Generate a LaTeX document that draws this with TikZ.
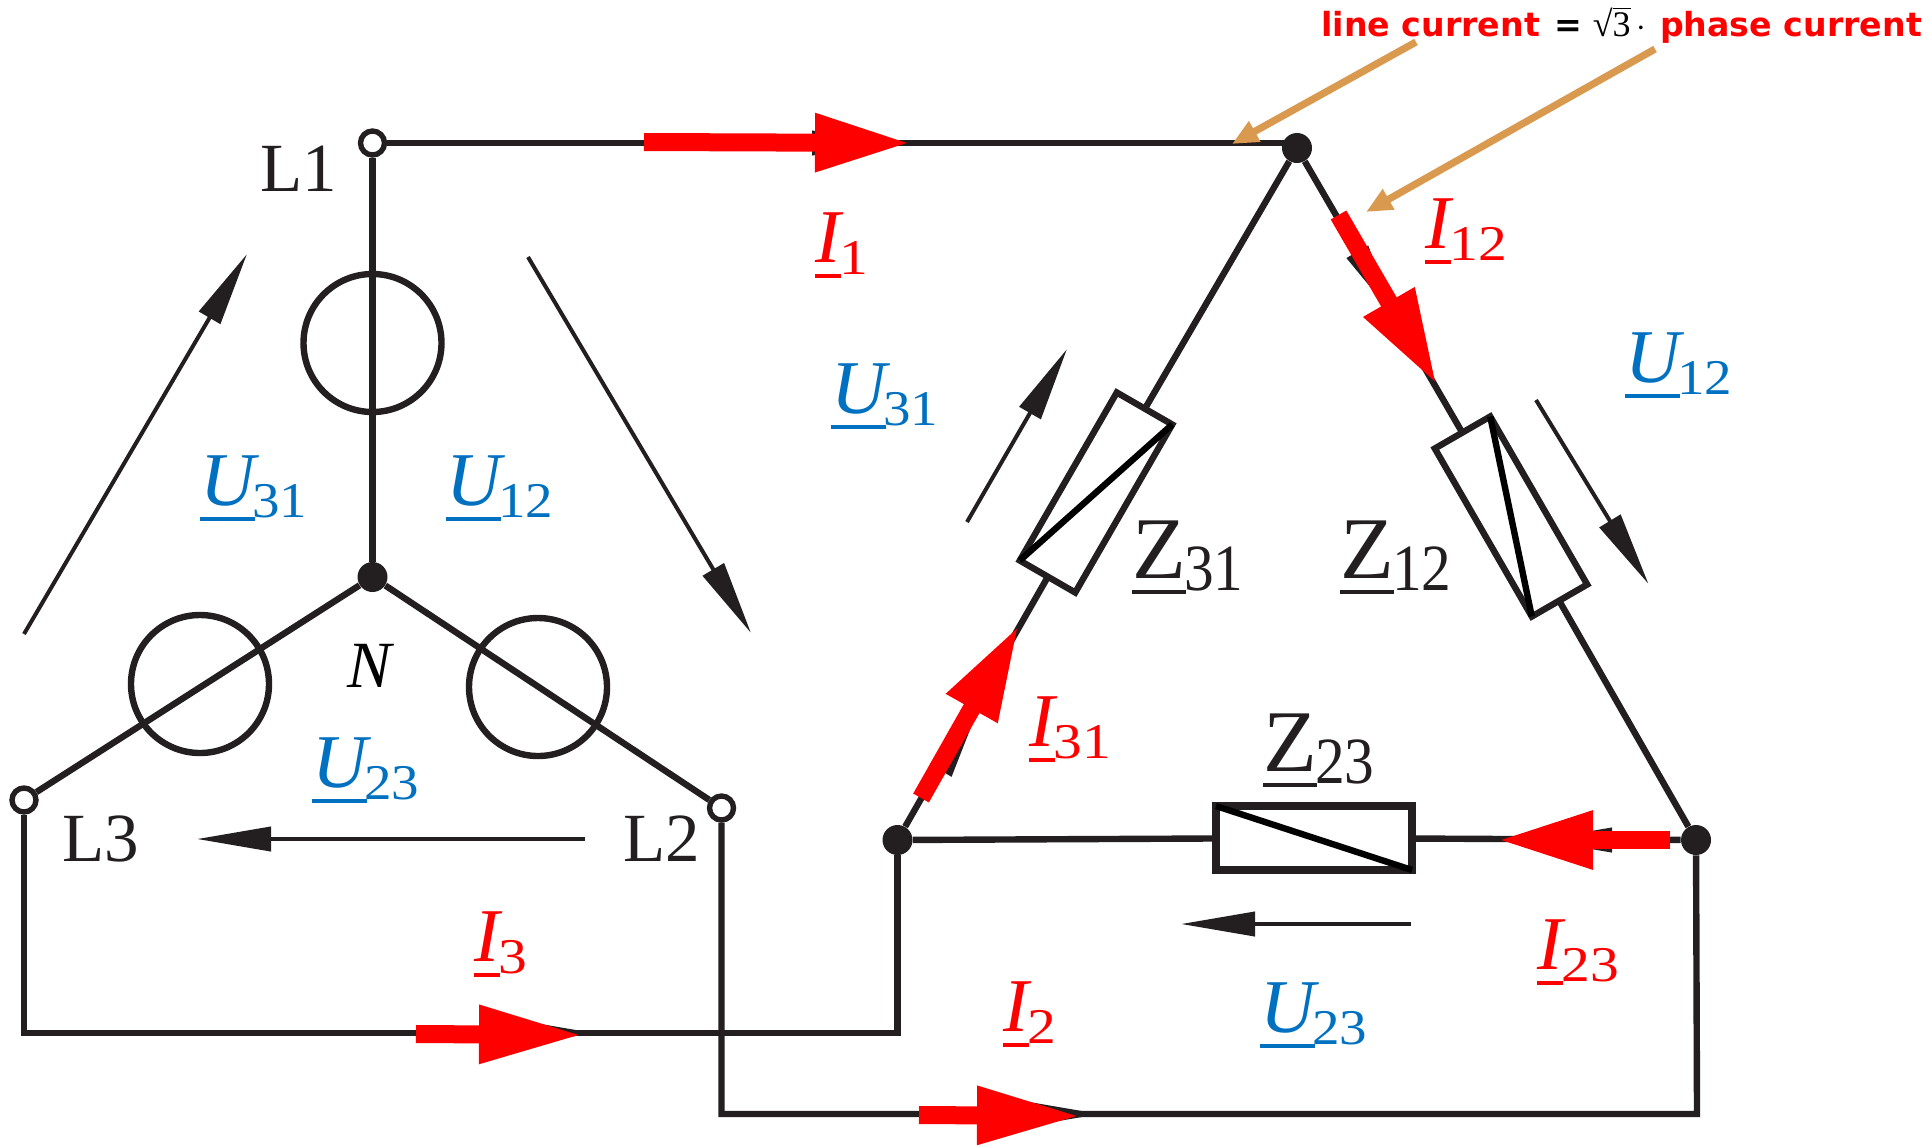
\documentclass[tikz,border=0pt]{standalone}
\usepackage{fontspec}
\setmainfont{Liberation Serif}
\newfontfamily\notefont{DejaVu Sans}
\usetikzlibrary{arrows.meta,positioning}
\definecolor{wireblack}{HTML}{231F20}
\definecolor{ublue}{HTML}{0070C0}
\definecolor{noteorange}{HTML}{D99A50}
\newcommand{\barred}[1]{\setbox0=\hbox{#1}\rlap{\rule[-8pt]{\wd0}{1.8pt}}\box0}
\newcommand{\phasor}[2]{\barred{\itshape #1}\kern-1.5pt{\fontsize{25}{25}\selectfont\raisebox{-6pt}{\scalebox{1.1}[1]{#2}}}}
\newcommand{\current}[2]{\barred{\itshape #1}\kern-.5pt{\fontsize{25}{25}\selectfont\raisebox{-6pt}{\scalebox{1.15}[1]{#2}}}}
\newcommand{\imped}[2]{\barred{#1}\kern-1pt{\fontsize{33}{33}\selectfont\raisebox{-6pt}{\scalebox{.9}[1]{#2}}}}
\newcommand{\rootthree}{{\rmfamily\mdseries\fontsize{18}{18}\selectfont √\rlap{\rule[13.4pt]{9pt}{.6pt}}3}}
\tikzset{
  wire/.style={draw=wireblack, line width=3.2pt},
  terminal/.style={circle, draw=wireblack, fill=white, line width=2.7pt, minimum size=12pt, inner sep=0pt},
  junction/.style={circle, fill=wireblack, minimum size=15pt, inner sep=0pt},
  source/.style={circle, draw=wireblack, line width=3.2pt, minimum size=69pt, inner sep=0pt},
  load/.style={rectangle, draw=wireblack, line width=3.2pt, minimum width=97pt, minimum height=32pt, inner sep=0pt, outer sep=0pt},
  slash/.style={draw=black, line width=3.2pt},
  arrow/.style={-{Triangle[length=37pt, width=12pt]}, draw=wireblack, fill=wireblack, line width=2pt},
  redarrow/.style={-{Triangle[length=48pt, width=27pt]}, draw=red, fill=red, line width=9pt},
  longred/.style={redarrow, -{Triangle[length=52pt, width=27pt]}},
  notearrow/.style={-{Triangle[length=13pt, width=11pt]}, draw=noteorange, fill=noteorange, line width=3.6pt},
  tag/.style={anchor=base west, inner sep=0pt, font=\fontsize{38}{40}\selectfont},
  utag/.style={tag, text=ublue},
  itag/.style={tag, text=red},
  ztag/.style={tag, text=wireblack, font=\fontsize{44}{46}\selectfont},
  ltag/.style={tag, text=wireblack, font=\fontsize{34.5}{36}\selectfont}
}
\begin{document}
\begin{tikzpicture}[x=0.5pt, y=-0.5pt]
  \useasboundingbox (0,0) rectangle (1930,1146);
  % star side
  \node[terminal] (L1) at (372.5,143) {};
  \node[terminal] (L3) at (24,800) {};
  \node[terminal] (L2) at (721.5,808) {};
  \node[junction] (N) at (372.5,577) {};
  \node[source] (srcone) at (372.5,343) {};
  \node[source] (srcthree) at (200,684) {};
  \node[source] (srctwo) at (538,687) {};
  \draw[wire] (L1)--(N); \draw[wire] (N)--(L3); \draw[wire] (N)--(L2);
  % delta side
  \node[junction] (top) at (1297,148) {};
  \node[junction] (left) at (897.5,840) {};
  \node[junction] (right) at (1696,840) {};
  \node[load, rotate=60] (zza) at (1096,492.5) {};
  \node[load, rotate=-60] (zab) at (1511,516.5) {};
  \node[load, line width=4pt, minimum width=98pt] (zbc) at (1314,838) {};
  \draw[slash] (zza.south east)--(zza.north west);
  \draw[slash] (zab.north west)--(zab.south east);
  \draw[slash] (zbc.north west)--(zbc.south east);
  \draw[wire] (top)--(zza); \draw[wire] (zza)--(left);
  \draw[wire] (top)--(zab); \draw[wire] (zab)--(right);
  \draw[wire] (left)--(zbc); \draw[wire] (zbc)--(right);
  % lines between both sides
  \coordinate (cornerc) at (897.5,1033);
  \coordinate (cornerb) at (1697,1114);
  \draw[wire] (L1)--(L1-|top);
  \draw[wire] (L3)|-(cornerc)--(left);
  \draw[wire] (L2)|-(cornerb)--(right);
  % voltage arrows
  \coordinate (ua) at (24,634); \coordinate (ub) at (247,254);
  \coordinate (uc) at (528,257); \coordinate (ud) at (751,633);
  \coordinate (ue) at (585,839); \coordinate (uf) at (197,839);
  \coordinate (ug) at (967,522); \coordinate (uh) at (1067,349);
  \coordinate (ui) at (1536,400); \coordinate (uj) at (1648.5,584);
  \coordinate (uk) at (1411,924); \coordinate (ul) at (1181,924);
  \draw[arrow] (ua)--(ub); \draw[arrow] (uc)--(ud); \draw[arrow] (ue)--(uf);
  \draw[arrow] (ug)--(uh); \draw[arrow] (ui)--(uj); \draw[arrow] (uk)--(ul);
  % black tips under the red ones
  \coordinate (ba) at (812,143); \coordinate (bb) at (886,143);
  \coordinate (bc) at (1358,253); \coordinate (bd) at (1394,316);
  \coordinate (be) at (941,770); \coordinate (bf) at (979,707);
  \coordinate (bg) at (1611,840); \coordinate (bh) at (1538,840);
  \coordinate (bi) at (514,1033); \coordinate (bj) at (594,1033);
  \coordinate (bk) at (1024,1114); \coordinate (bl) at (1100,1114);
  \draw[arrow] (ba)--(bb); \draw[arrow] (bc)--(bd); \draw[arrow] (be)--(bf);
  \draw[arrow] (bg)--(bh); \draw[arrow] (bi)--(bj); \draw[arrow] (bk)--(bl);
  % current arrows
  \coordinate (ia) at (644,142); \coordinate (ib) at (911,143);
  \coordinate (ic) at (1338.5,215); \coordinate (id) at (1437,385);
  \coordinate (ie) at (921,798); \coordinate (if) at (1019,625);
  \coordinate (ig) at (1670,840); \coordinate (ih) at (1497,840);
  \coordinate (ij) at (416,1034); \coordinate (ik) at (583,1035);
  \coordinate (il) at (919,1115); \coordinate (im) at (1081,1116);
  \draw[redarrow] (ia)--(ib); \draw[redarrow] (ic)--(id); \draw[redarrow] (ie)--(if);
  \draw[redarrow] (ig)--(ih); \draw[longred] (ij)--(ik); \draw[longred] (il)--(im);
  % note
  \node[anchor=base west, inner sep=0pt, text=red, font=\notefont\bfseries\fontsize{16.6}{18}\selectfont] (note) at (1321,36)
    {line current\kern7.5pt{\color{black}=\kern5pt\rootthree\kern3pt$\cdot$}\kern7pt phase current};
  \coordinate (na) at (1416,42); \coordinate (nb) at (1232,144);
  \coordinate (nc) at (1655,49); \coordinate (nd) at (1366,212);
  \draw[notearrow] (na)--(nb); \draw[notearrow] (nc)--(nd);
  % labels
  \node[ltag] (labone) at (260,191) {L1};
  \node[ltag] (labthree) at (62,861) {L3};
  \node[ltag] (labtwo) at (623,861) {L2};
  \node[tag, font=\itshape\fontsize{33}{35}\selectfont] (labn) at (347,687) {N};
  \node[utag] (ustarca) at (200,505) {\phasor{U}{31}};
  \node[utag] (ustarab) at (446,505) {\phasor{U}{12}};
  \node[utag] (ustarbc) at (312,787) {\phasor{U}{23}};
  \node[utag] (uca) at (831,413) {\phasor{U}{31}};
  \node[utag] (uab) at (1625,382) {\phasor{U}{12}};
  \node[utag] (ubc) at (1260,1032) {\phasor{U}{23}};
  \node[itag] (ione) at (815,262) {\current{I}{1}};
  \node[itag] (itwo) at (1003,1031) {\current{I}{2}};
  \node[itag] (ithree) at (474,961) {\current{I}{3}};
  \node[itag] (iab) at (1425,248) {\current{I}{12}};
  \node[itag] (ica) at (1029,746) {\current{I}{31}};
  \node[itag] (ibc) at (1537,969) {\current{I}{23}};
  \node[ztag] (labzca) at (1132,578) {\imped{Z}{31}};
  \node[ztag] (labzab) at (1340,578) {\imped{Z}{12}};
  \node[ztag] (labzbc) at (1263,771) {\imped{Z}{23}};
\end{tikzpicture}
\end{document}
